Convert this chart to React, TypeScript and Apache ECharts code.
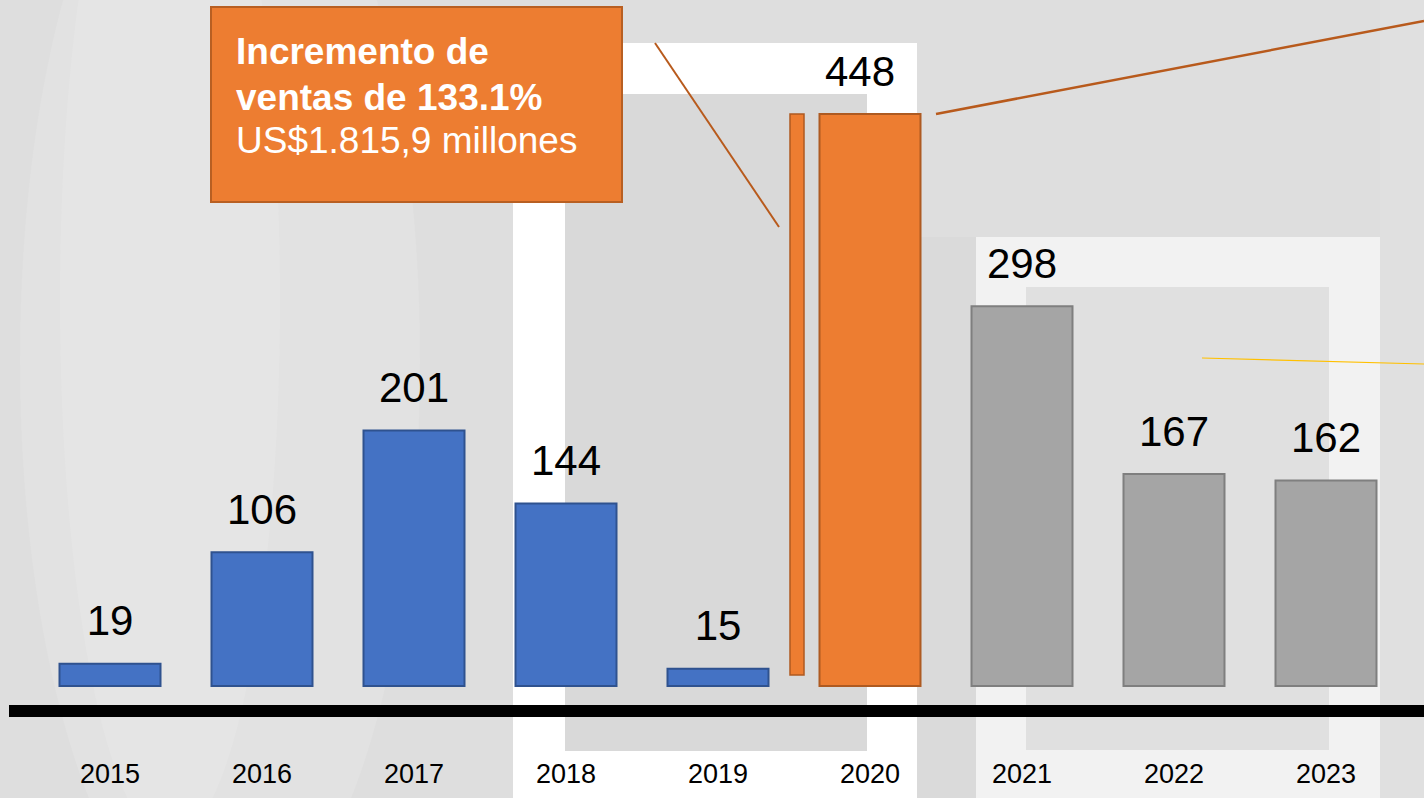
import React, { useEffect, useRef } from "react";
import * as echarts from "echarts";

const years = ["2015", "2016", "2017", "2018", "2019", "2020", "2021", "2022", "2023"];
const sales = [19, 106, 201, 144, 15, 448, 298, 167, 162];
const boxLine1 = "Incremento de";
const boxLine2 = "ventas de 133.1%";
const boxLine3 = "US$1.815,9 millones";

const FONT = "'Liberation Sans', Arial, Helvetica, sans-serif";

const BLUE = { fill: "#4472C4", border: "#2F528F" };
const ORANGE = { fill: "#ED7D31", border: "#AE5A21" };
const GRAY = { fill: "#A5A5A5", border: "#7F7F7F" };

function paletteFor(i: number) {
  if (i < 5) return BLUE;
  if (i === 5) return ORANGE;
  return GRAY;
}

export default function App() {
  const ref = useRef<HTMLDivElement>(null);

  useEffect(() => {
    if (!ref.current) return;
    const chart = echarts.init(ref.current, undefined, { renderer: "svg" });

    const bg = (x: number, y: number, w: number, h: number, fill: string, z = -100) => ({
      type: "rect",
      silent: true,
      z,
      shape: { x, y, width: w, height: h },
      style: { fill },
    });

    const option: any = {
      animation: false,
      backgroundColor: "#DEDEDE",
      grid: { left: 34, right: 22, top: 113, bottom: 111 },
      xAxis: {
        type: "category",
        data: years,
        axisLine: { show: false },
        axisTick: { show: false },
        axisLabel: { margin: 73, fontSize: 27, color: "#000", fontFamily: FONT },
      },
      yAxis: { type: "value", min: 0, max: 448, show: false },
      series: [
        {
          type: "bar",
          barWidth: 103,
          data: sales.map((v, i) => {
            const p = paletteFor(i);
            const d: any = {
              value: v,
              itemStyle: { color: p.fill, borderColor: p.border, borderWidth: 2 },
            };
            if (i === 5) d.label = { offset: [-10, 0] };
            return d;
          }),
          label: {
            show: true,
            position: "top",
            distance: 21,
            fontSize: 42,
            color: "#000",
            fontFamily: FONT,
          },
        },
      ],
      graphic: [
        // background swoosh
        {
          type: "ellipse",
          silent: true,
          z: -99,
          shape: { cx: 220, cy: 360, rx: 200, ry: 580 },
          style: { fill: "#E2E2E2" },
        },
        {
          type: "ellipse",
          silent: true,
          z: -98,
          shape: { cx: 170, cy: 300, rx: 110, ry: 540 },
          style: { fill: "#E5E5E5" },
        },
        bg(1380, 0, 44, 798, "#E0E0E0", -99),
        bg(917, 237, 59, 561, "#DADADA", -99),
        // white frame behind 2018-2020
        bg(513, 43, 404, 755, "#FFFFFF", -90),
        bg(565, 94, 302, 657, "#D9D9D9", -89),
        // light frame behind 2021-2023
        bg(976, 237, 404, 561, "#F2F2F2", -90),
        bg(1026, 287, 303, 463, "#E0E0E0", -89),
        // black baseline
        bg(9, 705, 1415, 12, "#000000", 20),
        // thin orange bar decoration
        {
          type: "rect",
          silent: true,
          z: 5,
          shape: { x: 790, y: 114, width: 14, height: 561 },
          style: { fill: ORANGE.fill, stroke: ORANGE.border, lineWidth: 1.5 },
        },
        // connector lines
        {
          type: "line",
          silent: true,
          z: 30,
          shape: { x1: 655, y1: 43, x2: 779, y2: 227 },
          style: { stroke: "#B85A1C", lineWidth: 2 },
        },
        {
          type: "line",
          silent: true,
          z: 30,
          shape: { x1: 936, y1: 114, x2: 1424, y2: 21 },
          style: { stroke: "#B85A1C", lineWidth: 2.5 },
        },
        {
          type: "line",
          silent: true,
          z: 30,
          shape: { x1: 1202, y1: 358, x2: 1424, y2: 364 },
          style: { stroke: "#FFC000", lineWidth: 1.2 },
        },
        // annotation box
        {
          type: "rect",
          silent: true,
          z: 40,
          shape: { x: 211, y: 7, width: 411, height: 195 },
          style: { fill: ORANGE.fill, stroke: "#B85F22", lineWidth: 2 },
        },
        {
          type: "text",
          silent: true,
          z: 41,
          x: 236,
          y: 51,
          style: {
            text: boxLine1,
            fill: "#FFFFFF",
            font: `bold 37px ${FONT}`,
            align: "left",
            verticalAlign: "middle",
          },
        },
        {
          type: "text",
          silent: true,
          z: 41,
          x: 236,
          y: 97,
          style: {
            text: boxLine2,
            fill: "#FFFFFF",
            font: `bold 37px ${FONT}`,
            align: "left",
            verticalAlign: "middle",
          },
        },
        {
          type: "text",
          silent: true,
          z: 41,
          x: 236,
          y: 140,
          style: {
            text: boxLine3,
            fill: "#FFFFFF",
            font: `37px ${FONT}`,
            align: "left",
            verticalAlign: "middle",
          },
        },
      ],
    };

    chart.setOption(option);
    return () => chart.dispose();
  }, []);

  return (
    <div
      ref={ref}
      style={{ position: "fixed", left: 0, top: 0, width: 1424, height: 798 }}
    />
  );
}
